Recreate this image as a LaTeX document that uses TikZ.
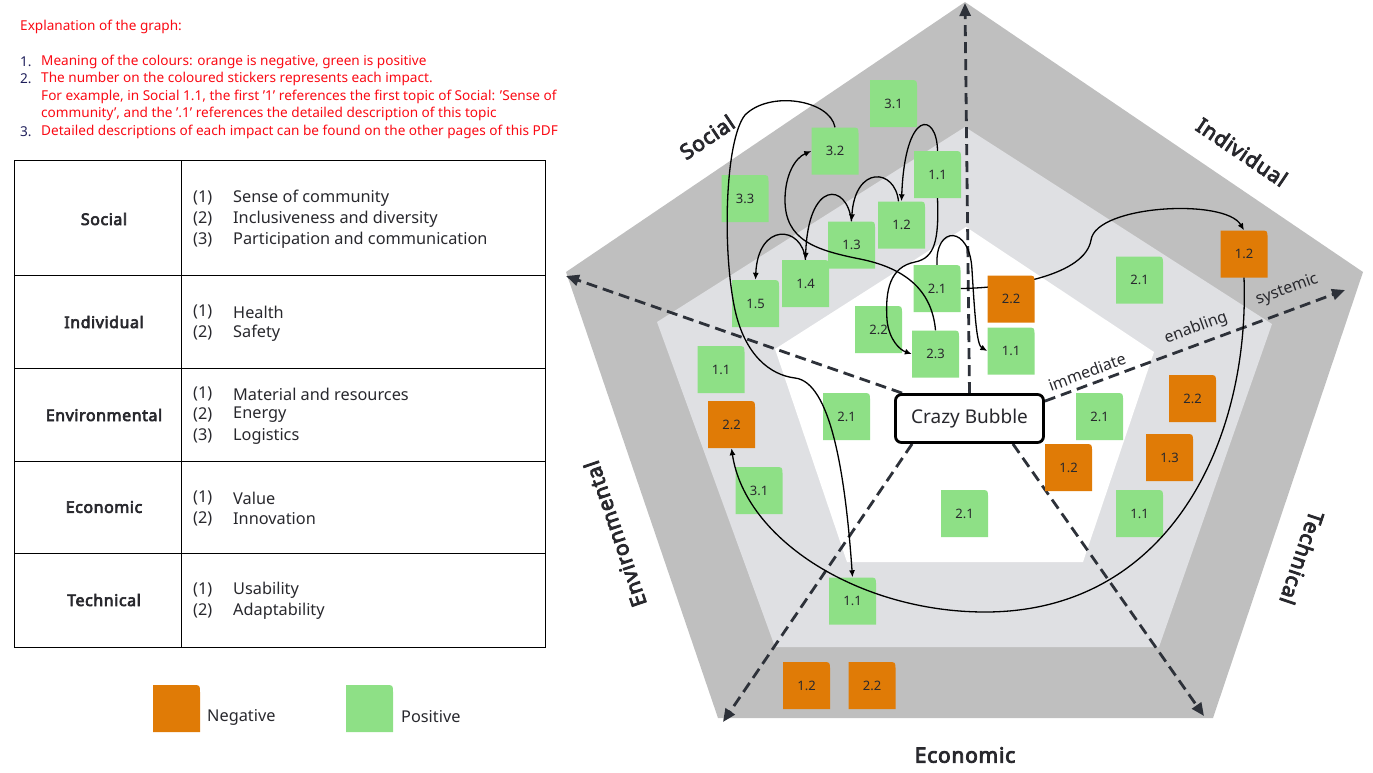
\documentclass[tikz,border=0pt]{standalone}
\usepackage{fontspec}
\setmainfont{Noto Sans}
\newfontfamily\bfnoto{Noto Sans}[FakeBold=4,LetterSpace=3.5]
\usetikzlibrary{arrows.meta}
\definecolor{outerG}{RGB}{191,191,191}
\definecolor{midG}{RGB}{223,224,227}
\definecolor{axisC}{RGB}{45,49,57}
\definecolor{posG}{RGB}{142,224,134}
\definecolor{negO}{RGB}{224,123,6}
\definecolor{hdrR}{RGB}{250,10,20}
\definecolor{numC}{RGB}{30,30,90}
\definecolor{txtC}{RGB}{40,40,45}
\pgfdeclarelayer{back}
\pgfdeclarelayer{mid}
\pgfsetlayers{back,mid,main}
% sticker: name, x, y, colour, text
\newcommand\stk[5]{%
  \fill[#4] (#2-23.5,#3+23.5) -- (#2-23.5,#3-23.5) -- (#2+16,#3-23.5) .. controls (#2+23.5,#3-23.5) .. (#2+23.5,#3-16) -- (#2+23.5,#3+23.5) -- cycle;
  \node[stktxt] (#1) at (#2,#3) {#5};}
\begin{document}
\begin{tikzpicture}[x=1pt,y=-1pt,
  stktxt/.style={minimum width=47pt,minimum height=47pt,inner sep=0pt,text=txtC,font=\fontsize{13}{13}\selectfont},
  axisline/.style={draw=axisC,line width=2.8pt,dash pattern=on 11pt off 6pt,-{Triangle[length=13pt,width=11pt]}},
  link/.style={draw=black,line width=1.3pt,-{Latex[length=7pt,width=6pt]}},
  catlbl/.style={font=\fontsize{21}{21}\bfnoto,text=txtC,inner sep=0pt},
  axlbl/.style={font=\fontsize{16}{16}\selectfont,text=txtC,inner sep=0pt},
  hdr/.style={anchor=west,inner sep=0pt,text=hdrR,font=\fontsize{13.6}{13.6}\selectfont},
  hnum/.style={anchor=west,inner sep=0pt,text=numC,font=\fontsize{13.6}{13.6}\selectfont},
  tcat/.style={inner sep=0pt,text=txtC,font=\fontsize{16}{16}\bfnoto},
  titem/.style={anchor=west,inner sep=0pt,text=txtC,font=\fontsize{16.3}{16.3}\selectfont},
  tline/.style={draw=black,line width=0.9pt},
  lgtxt/.style={anchor=west,inner sep=0pt,text=txtC,font=\fontsize{16.3}{16.3}\selectfont},
  bubble/.style={draw=black,line width=2.8pt,rounded corners=6pt,fill=white,minimum width=148pt,minimum height=48pt,inner sep=0pt,text=txtC,font=\fontsize{19}{19}\selectfont}]
\useasboundingbox (0,0) rectangle (1373,772);

% ---------- header ----------
\node[hdr] (h0) at (20,27) {Explanation of the graph:};
\node[hnum] (n1) at (20,62) {1.};
\node[hdr] (h1) at (41,62) {Meaning of the colours: orange is negative, green is positive};
\node[hnum] (n2) at (20,79) {2.};
\node[hdr] (h2) at (41,79) {The number on the coloured stickers represents each impact.};
\node[hdr] (h3) at (41,97) {For example, in Social 1.1, the first '1' references the first topic of Social: 'Sense of};
\node[hdr] (h4) at (41,114) {community', and the '.1' references the detailed description of this topic};
\node[hnum] (n3) at (20,132) {3.};
\node[hdr] (h5) at (41,132) {Detailed descriptions of each impact can be found on the other pages of this PDF};

% ---------- table ----------
\draw[tline] (14,160) rectangle (545,647);
\draw[tline] (181,160) -- (181,647);
\draw[tline] (14,275) -- (545,275);
\draw[tline] (14,368) -- (545,368);
\draw[tline] (14,461) -- (545,461);
\draw[tline] (14,553) -- (545,553);
\node[tcat] (cSoc) at (104,219) {Social};
\node[tcat] (cInd) at (104,322) {Individual};
\node[tcat] (cEnv) at (104,415) {Environmental};
\node[tcat] (cEco) at (104,507) {Economic};
\node[tcat] (cTec) at (104,600) {Technical};
\node[titem] (i11) at (193,198) {(1)}; \node[titem] (t11) at (233,198) {Sense of community};
\node[titem] (i12) at (193,219) {(2)}; \node[titem] (t12) at (233,219) {Inclusiveness and diversity};
\node[titem] (i13) at (193,240) {(3)}; \node[titem] (t13) at (233,240) {Participation and communication};
\node[titem] (i21) at (193,312) {(1)}; \node[titem] (t21) at (233,312) {Health};
\node[titem] (i22) at (193,333) {(2)}; \node[titem] (t22) at (233,333) {Safety};
\node[titem] (i31) at (193,394) {(1)}; \node[titem] (t31) at (233,394) {Material and resources};
\node[titem] (i32) at (193,415) {(2)}; \node[titem] (t32) at (233,415) {Energy};
\node[titem] (i33) at (193,436) {(3)}; \node[titem] (t33) at (233,436) {Logistics};
\node[titem] (i41) at (193,498) {(1)}; \node[titem] (t41) at (233,498) {Value};
\node[titem] (i42) at (193,519) {(2)}; \node[titem] (t42) at (233,519) {Innovation};
\node[titem] (i51) at (193,590) {(1)}; \node[titem] (t51) at (233,590) {Usability};
\node[titem] (i52) at (193,611) {(2)}; \node[titem] (t52) at (233,611) {Adaptability};

% ---------- legend ----------
\stk{lgneg}{176.5}{708.5}{negO}{}
\node[lgtxt] (lgnegt) at (207,717) {Negative};
\stk{lgpos}{369.5}{708.5}{posG}{}
\node[lgtxt] (lgpost) at (401,717) {Positive};

% ---------- centre ----------
\node[bubble] (cb) at (969.5,418.5) {Crazy Bubble};
\coordinate (tipN) at (965,3);
\coordinate (tipW) at (566,276);
\coordinate (tipE) at (1345,290);
\coordinate (tipSW) at (723,722);
\coordinate (tipSE) at (1204,716);
\begin{pgfonlayer}{back}
% pentagon bands
\fill[outerG] (965,2) -- (1363,272) -- (1213,718) -- (718,718) -- (566,272) -- cycle;
\fill[midG] (965,127) -- (1272,324) -- (1159,647) -- (775,647) -- (657,322) -- cycle;
\fill[white] (966,227) -- (1154,352) -- (1083,562) -- (847,562) -- (775,349) -- cycle;
% axes
\draw[axisline] (cb.north) -- (tipN);
\draw[axisline] ([xshift=8pt]cb.north west) -- (tipW);
\draw[axisline] ([yshift=-8pt]cb.north east) -- (tipE);
\draw[axisline] ([xshift=18pt]cb.south west) -- (tipSW);
\draw[axisline] ([xshift=-32pt]cb.south east) -- (tipSE);
\end{pgfonlayer}

% ---------- stickers ----------
\stk{so31}{893.5}{103.5}{posG}{3.1}
\stk{so32}{835}{151}{posG}{3.2}
\stk{so33}{745}{198.5}{posG}{3.3}
\stk{so11}{937.5}{174.5}{posG}{1.1}
\stk{so12}{901.5}{225}{posG}{1.2}
\stk{so13}{851.5}{245}{posG}{1.3}
\stk{so14}{805.5}{283.5}{posG}{1.4}
\stk{so15}{755.5}{303.5}{posG}{1.5}
\stk{so21}{937}{288.5}{posG}{2.1}
\stk{so22}{878.5}{329.5}{posG}{2.2}
\stk{so23}{935.5}{354}{posG}{2.3}
\stk{in22}{1011}{299}{negO}{2.2}
\stk{in11}{1011}{351}{posG}{1.1}
\stk{in21}{1139.5}{280}{posG}{2.1}
\stk{in12}{1244}{254}{negO}{1.2}
\stk{en11}{721}{369.5}{posG}{1.1}
\stk{en22}{731.5}{424.5}{negO}{2.2}
\stk{en31}{759}{490.5}{posG}{3.1}
\stk{en21}{846.5}{416.5}{posG}{2.1}
\stk{ec21}{964.5}{513.5}{posG}{2.1}
\stk{ec11}{852.5}{601}{posG}{1.1}
\stk{ec12}{806.5}{685.5}{negO}{1.2}
\stk{ec22}{872}{685.5}{negO}{2.2}
\stk{te21}{1099.5}{416.5}{posG}{2.1}
\stk{te12}{1068.5}{467.5}{negO}{1.2}
\stk{te22}{1192.5}{398.5}{negO}{2.2}
\stk{te13}{1169.5}{457.5}{negO}{1.3}
\stk{te11}{1139.5}{513.5}{posG}{1.1}

% ---------- connectors ----------
\begin{pgfonlayer}{mid}
\draw[link] (so21.east) .. controls (1010,288) and (1085,275) .. (1091,240) .. controls (1096,205) and (1225,198) .. (in12.north);
\end{pgfonlayer}
\draw[link] (so32.north) .. controls (830,100) and (770,90) .. (745,115) .. controls (725,140) and (722,250) .. (735,310) .. controls (745,355) and (770,375) .. (795,378) .. controls (830,382) and (845,470) .. (ec11.north);
\draw[link] (so11.north) .. controls (937,112) and (905,108) .. (so12.north);
\draw[link] ([xshift=-3pt]so12.north) .. controls (895,168) and (855,165) .. (so13.north);
\draw[link] (so13.north) .. controls (847,182) and (808,180) .. (so14.north);
\draw[link] (so14.north) .. controls (802,225) and (758,222) .. (so15.north);
\draw[link] (so11.south) .. controls (939,240) and (935,258) .. (915,262) .. controls (890,267) and (885,290) .. (887,320) .. controls (889,340) and (900,350) .. (so23.west);
\draw[link] (so23.north) .. controls (932,290) and (905,268) .. (860,259) .. controls (815,250) and (785,240) .. (785,200) .. controls (785,175) and (795,158) .. (so32.west);
\draw[link] (so21.north) .. controls (935,225) and (970,225) .. (972,270) .. controls (975,320) and (977,345) .. (in11.west);
\draw[link] (in12.south) .. controls (1250,440) and (1170,612) .. (985,612) .. controls (860,612) and (745,540) .. (en22.south);

% ---------- labels ----------
\node[catlbl,rotate=34] (lSoc) at (707,137) {Social};
\node[catlbl,rotate=-34] (lInd) at (1242,152) {Individual};
\node[catlbl,rotate=-108.6] (lTec) at (1302,558) {Technical};
\node[catlbl,rotate=108.8] (lEnv) at (615,534) {Environmental};
\node[catlbl] (lEco) at (965,755) {Economic};
\node[axlbl,rotate=20] (lim) at (1087,372) {immediate};
\node[axlbl,rotate=20] (len) at (1196,328) {enabling};
\node[axlbl,rotate=20] (lsy) at (1287,290) {systemic};
\end{tikzpicture}
\end{document}
